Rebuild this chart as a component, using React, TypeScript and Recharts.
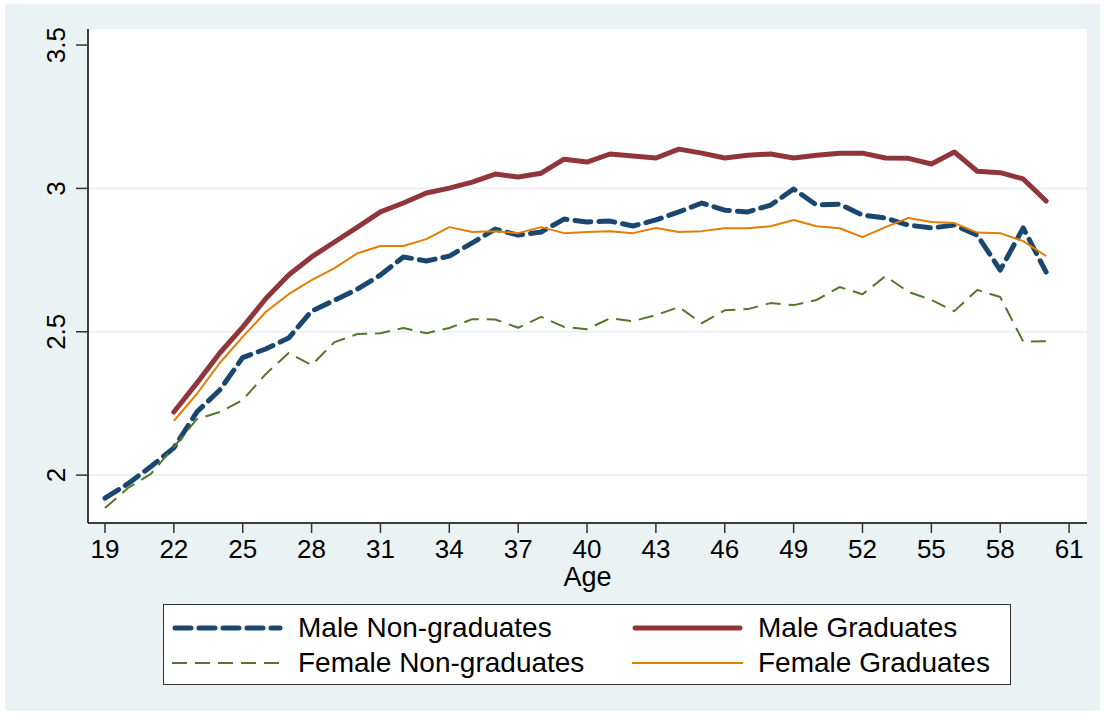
import React from "react";
import {
  LineChart,
  Line,
  XAxis,
  YAxis,
  CartesianGrid,
  ReferenceLine,
} from "recharts";

const ages = [
  19, 20, 21, 22, 23, 24, 25, 26, 27, 28, 29, 30, 31, 32, 33, 34, 35, 36, 37,
  38, 39, 40, 41, 42, 43, 44, 45, 46, 47, 48, 49, 50, 51, 52, 53, 54, 55, 56,
  57, 58, 59, 60,
];

// ages 19..60
const maleNonGrad = [
  1.92, 1.97, 2.03, 2.095, 2.22, 2.297, 2.41, 2.44, 2.478, 2.572, 2.61, 2.649,
  2.698, 2.761, 2.747, 2.764, 2.81, 2.858, 2.837, 2.848, 2.893, 2.883, 2.886,
  2.869, 2.89, 2.918, 2.949, 2.924, 2.918, 2.942, 2.998, 2.942, 2.945, 2.907,
  2.897, 2.872, 2.862, 2.872, 2.837, 2.715, 2.862, 2.708,
];

// ages 22..60
const maleGrad = [
  2.22, 2.321, 2.426, 2.516, 2.615, 2.698, 2.761, 2.813, 2.865, 2.918, 2.949,
  2.984, 3.001, 3.022, 3.05, 3.04, 3.053, 3.102, 3.092, 3.12, 3.113, 3.106,
  3.137, 3.123, 3.106, 3.116, 3.12, 3.106, 3.116, 3.123, 3.123, 3.106, 3.105,
  3.085, 3.127, 3.06, 3.055, 3.033, 2.956,
];

// ages 19..60
const femaleNonGrad = [
  1.885, 1.955, 2.004, 2.098, 2.195, 2.22, 2.262, 2.352, 2.426, 2.384, 2.464,
  2.492, 2.495, 2.513, 2.495, 2.513, 2.544, 2.543, 2.514, 2.552, 2.517, 2.509,
  2.547, 2.537, 2.558, 2.586, 2.53, 2.575, 2.579, 2.6, 2.593, 2.611, 2.656,
  2.631, 2.694, 2.639, 2.611, 2.572, 2.646, 2.621, 2.466, 2.467,
];

// ages 22..60
const femaleGrad = [
  2.189, 2.283, 2.391, 2.482, 2.569, 2.631, 2.68, 2.722, 2.774, 2.799, 2.799,
  2.823, 2.865, 2.848, 2.851, 2.844, 2.865, 2.844, 2.848, 2.851, 2.844, 2.862,
  2.848, 2.851, 2.861, 2.861, 2.868, 2.89, 2.868, 2.861, 2.83, 2.865, 2.897,
  2.883, 2.879, 2.846, 2.844, 2.816, 2.764,
];

const xTicks = [19, 22, 25, 28, 31, 34, 37, 40, 43, 46, 49, 52, 55, 58, 61];
const yTicks = [2, 2.5, 3, 3.5];
const gridLines = [2, 2.5, 3];

const GRAD_START = 22;

const data = ages.map((age, i) => ({
  age,
  maleNonGrad: maleNonGrad[i],
  maleGrad: age >= GRAD_START ? maleGrad[age - GRAD_START] : null,
  femaleNonGrad: femaleNonGrad[i],
  femaleGrad: age >= GRAD_START ? femaleGrad[age - GRAD_START] : null,
}));

const FONT = "'Liberation Sans', Arial, sans-serif";
const BG = "#EAF2F3";
const NAVY = "#1A476F";
const MAROON = "#90353B";
const GREEN = "#55752F";
const ORANGE = "#E37E00";

const series = [
  { key: "maleNonGrad", name: "Male Non-graduates", color: NAVY, width: 5, dash: "16 8", cap: "round" },
  { key: "maleGrad", name: "Male Graduates", color: MAROON, width: 5, dash: undefined, cap: "round" },
  { key: "femaleNonGrad", name: "Female Non-graduates", color: GREEN, width: 2, dash: "15 8", cap: "butt" },
  { key: "femaleGrad", name: "Female Graduates", color: ORANGE, width: 2, dash: undefined, cap: "butt" },
];

const YTick = (props: any) => {
  const { y, payload } = props;
  const x = 65;
  return (
    <text
      x={x}
      y={y}
      transform={`rotate(-90, ${x}, ${y})`}
      textAnchor="middle"
      fontSize={26}
      fontFamily={FONT}
      fill="#000"
    >
      {String(payload.value)}
    </text>
  );
};

const LegendSample = ({ s }: { s: (typeof series)[number] }) => (
  <svg width={115} height={12} style={{ display: "block" }}>
    <line
      x1={s.cap === "round" ? 3 : 0}
      x2={s.cap === "round" ? 108 : 111}
      y1={6}
      y2={6}
      stroke={s.color}
      strokeWidth={s.width}
      strokeDasharray={s.dash}
      strokeLinecap={s.cap as any}
    />
  </svg>
);

export default function App() {
  return (
    <div
      style={{
        position: "absolute",
        left: 0,
        top: 0,
        width: 1104,
        height: 715,
        background: "#fff",
        fontFamily: FONT,
      }}
    >
      <div
        style={{
          position: "absolute",
          left: 5,
          top: 4,
          width: 1095,
          height: 707,
          background: BG,
        }}
      />
      <div style={{ position: "absolute", left: 0, top: 0 }}>
        <LineChart
          width={1104}
          height={715}
          data={data}
          margin={{ top: 29, right: 17, left: 0, bottom: 0 }}
        >
          <CartesianGrid
            fill="#ffffff"
            fillOpacity={1}
            horizontal={false}
            vertical={false}
          />
          {gridLines.map((v) => (
            <ReferenceLine key={v} y={v} stroke={BG} strokeWidth={2} />
          ))}
          <XAxis
            type="number"
            dataKey="age"
            domain={[18.26, 61.78]}
            ticks={xTicks}
            allowDataOverflow
            height={192}
            tickSize={10}
            tickMargin={7}
            stroke="#000"
            tick={{ fontSize: 26, fill: "#000", fontFamily: FONT }}
            tickLine={{ stroke: "#333", strokeWidth: 1.5 }}
            axisLine={{ stroke: "#000", strokeWidth: 1.5 }}
          />
          <YAxis
            type="number"
            domain={[1.833, 3.556]}
            ticks={yTicks}
            allowDataOverflow
            width={88}
            tickSize={12}
            stroke="#000"
            tick={<YTick />}
            tickLine={{ stroke: "#333", strokeWidth: 1.5 }}
            axisLine={{ stroke: "#000", strokeWidth: 1.5 }}
          />
          {series.map((s) => (
            <Line
              key={s.key}
              type="linear"
              dataKey={s.key}
              name={s.name}
              stroke={s.color}
              strokeWidth={s.width}
              strokeDasharray={s.dash}
              strokeLinecap={s.cap as any}
              strokeLinejoin="round"
              dot={false}
              activeDot={false}
              connectNulls={false}
              isAnimationActive={false}
            />
          ))}
        </LineChart>
      </div>
      <div
        style={{
          position: "absolute",
          left: 0,
          top: 565,
          width: 1175,
          textAlign: "center",
          fontSize: 27,
          lineHeight: "24px",
          color: "#000",
        }}
      >
        Age
      </div>
      <div
        style={{
          position: "absolute",
          left: 163,
          top: 604,
          width: 846,
          height: 79,
          background: "#fff",
          border: "1.5px solid #333",
          boxSizing: "content-box",
        }}
      >
        {[0, 1].map((row) => (
          <div
            key={row}
            style={{
              position: "absolute",
              top: row === 0 ? 8 : 43,
              left: 0,
              height: 30,
              width: "100%",
            }}
          >
            {[0, 1].map((col) => {
              const s = series[row * 2 + col];
              return (
                <div
                  key={col}
                  style={{
                    position: "absolute",
                    left: col === 0 ? 8 : 468,
                    top: 0,
                    display: "flex",
                    alignItems: "center",
                    height: 30,
                  }}
                >
                  <LegendSample s={s} />
                  <span
                    style={{
                      marginLeft: 11,
                      fontSize: 28,
                      lineHeight: "30px",
                      whiteSpace: "nowrap",
                    }}
                  >
                    {s.name}
                  </span>
                </div>
              );
            })}
          </div>
        ))}
      </div>
    </div>
  );
}
